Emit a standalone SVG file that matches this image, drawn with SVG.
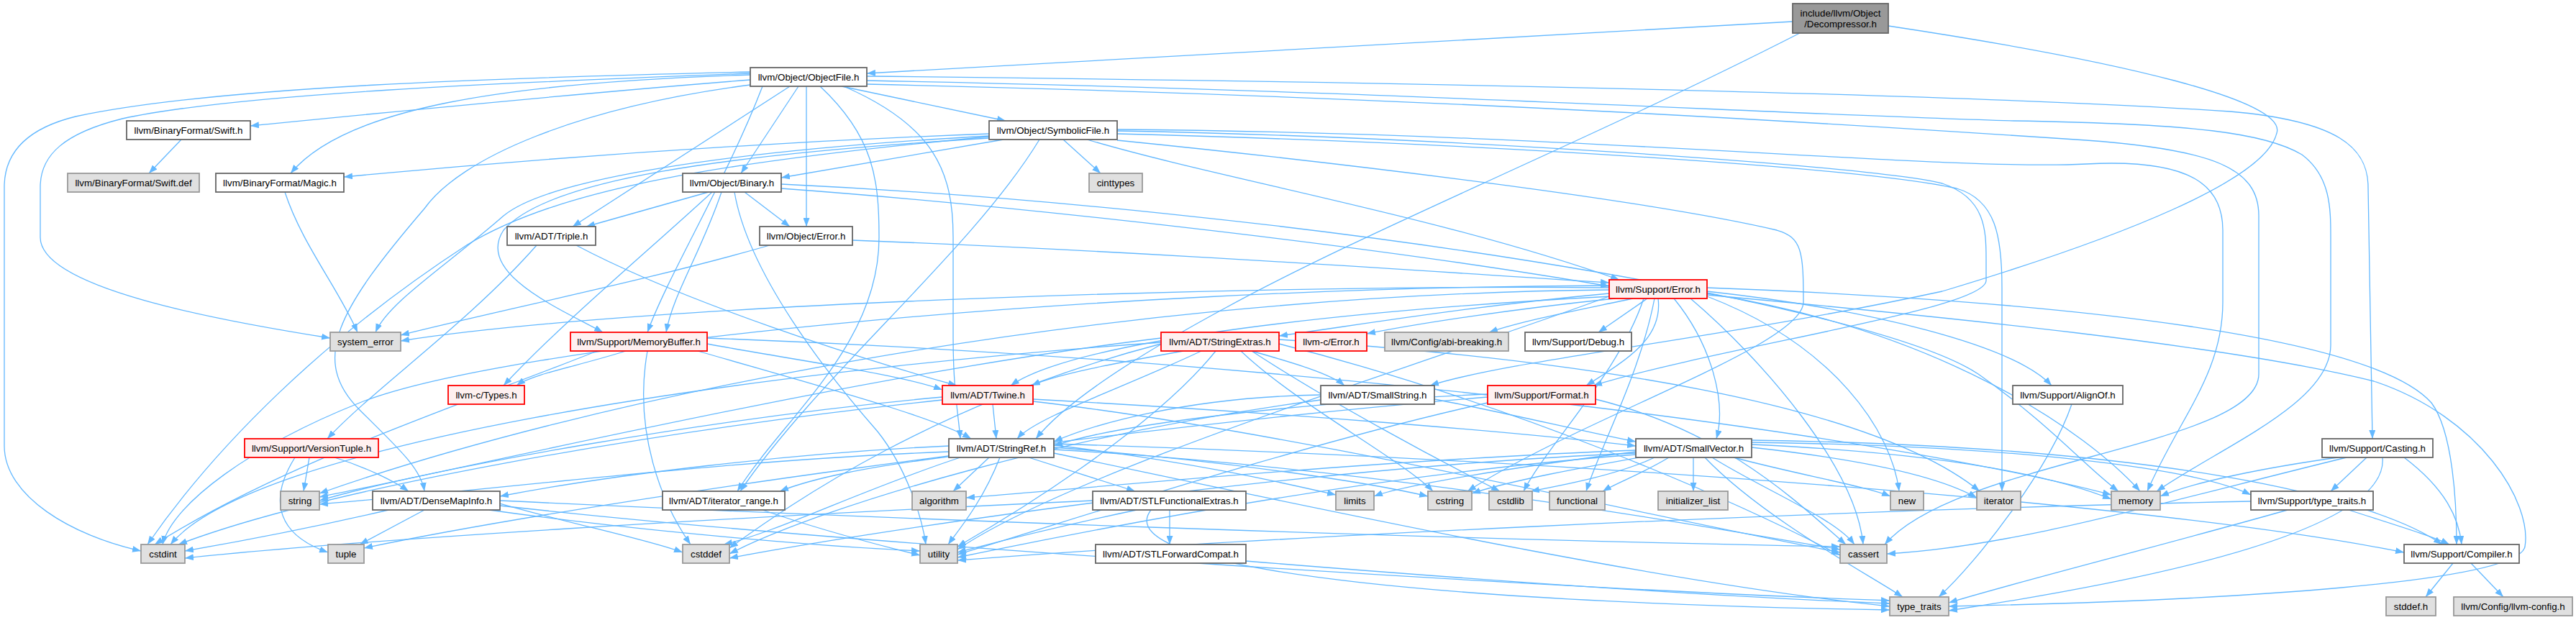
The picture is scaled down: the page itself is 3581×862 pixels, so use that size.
<svg xmlns="http://www.w3.org/2000/svg" width="3581" height="862" viewBox="0 0 3581 862">
<defs>
<marker id="a" viewBox="0 0 12 9" refX="12" refY="4.5" markerWidth="12" markerHeight="9" markerUnits="userSpaceOnUse" orient="auto"><path d="M0,0 L12,4.5 L0,9 z" fill="#63b8ff"/></marker>
<style>
.e{fill:none;stroke:#63b8ff;stroke-width:1.3;marker-end:url(#a)}
rect{stroke-width:1.8}
.w{fill:#ffffff;stroke:#666666}
.g{fill:#e0e0e0;stroke:#999999}
.r{fill:#fff0f0;stroke:#ff0000}
.k{fill:#999999;stroke:#666666}
text{font-family:"Liberation Sans",Arial,Helvetica,sans-serif;font-size:13.33px;fill:#000000;text-anchor:middle}
</style>
</defs>
<rect x="0" y="0" width="3581" height="862" fill="#ffffff" style="stroke:none"/>
<g id="edges">
<path class="e" d="M2492,30 C2000,55 1600,80 1205,102"/>
<path class="e" d="M2502,46 C2200,200 1900,320 1700,430 C1580,495 1480,560 1440,610"/>
<path class="e" d="M2625,36 C2950,85 3180,140 3165,185 C3150,250 2950,330 2700,405 C2400,470 2100,500 1988,536"/>
<path class="e" d="M1043,111 C800,130 550,155 348,175"/>
<path class="e" d="M1043,104 C700,115 480,150 404,241"/>
<path class="e" d="M1110,120 L1030,241"/>
<path class="e" d="M1170,120 L1398,168"/>
<path class="e" d="M1121,120 L1121,315"/>
<path class="e" d="M1098,120 L796,315"/>
<path class="e" d="M1173,120 C1300,175 1325,240 1325,330 L1325,470 C1325,540 1332,575 1335,610"/>
<path class="e" d="M1140,120 C1215,190 1222,250 1222,330 C1222,480 1090,580 1025,683"/>
<path class="e" d="M1205,106 C1800,112 2700,128 3100,155 C3250,168 3292,205 3292,260 L3298,610"/>
<path class="e" d="M1205,112 C1900,125 2500,160 2800,168 C3050,172 3150,185 3200,215 C3240,245 3240,290 3240,330 L3240,480 C3240,560 3090,620 2998,683"/>
<path class="e" d="M1205,117 C2000,135 2600,175 2900,195 C3080,208 3140,235 3140,300 L3140,520 C3140,620 2720,640 2620,757"/>
<path class="e" d="M1043,100 C700,108 300,120 105,162 C40,178 6,210 6,260 L6,620 C6,690 100,745 196,766"/>
<path class="e" d="M1043,102 C700,115 330,130 170,165 C90,185 56,215 56,260 L56,330 C56,400 300,445 459,470"/>
<path class="e" d="M1043,118 C800,150 640,220 590,290 C470,430 430,500 500,570 C550,620 585,650 590,683"/>
<path class="e" d="M1060,120 C1010,250 930,380 900,462"/>
<path class="e" d="M1375,186 C1000,200 700,225 478,246"/>
<path class="e" d="M1395,194 L1086,247"/>
<path class="e" d="M1478,194 L1530,241"/>
<path class="e" d="M1511,194 C1700,250 2000,300 2251,389"/>
<path class="e" d="M1553,182 C2000,190 2600,230 2700,255 C2760,275 2761,320 2761,360 L2761,390 C2761,430 2400,480 2215,536"/>
<path class="e" d="M1553,186 C2100,200 2600,235 2720,262 C2775,278 2783,330 2783,400 L2783,683"/>
<path class="e" d="M1553,180 C2200,185 2700,238 2900,228 C3050,220 3090,260 3090,320 L3090,420 C3090,520 3030,580 2985,683"/>
<path class="e" d="M1445,194 C1350,350 1140,520 1029,683"/>
<path class="e" d="M1553,195 C1900,230 2300,280 2470,320 C2505,330 2507,350 2507,420 C2507,480 2200,580 2040,683"/>
<path class="e" d="M1375,190 C1000,225 780,262 650,340 C450,470 300,620 205,757"/>
<path class="e" d="M1375,192 C1000,215 760,250 700,320 C660,380 780,430 838,462"/>
<path class="e" d="M1375,189 C1000,210 760,250 700,300 C620,370 540,420 522,462"/>
<path class="e" d="M985,267 L815,315"/>
<path class="e" d="M1035,267 L1098,315"/>
<path class="e" d="M990,267 C900,350 780,450 700,536"/>
<path class="e" d="M1003,267 C975,350 935,410 926,462"/>
<path class="e" d="M1086,262 C1400,285 1900,340 2237,398"/>
<path class="e" d="M1086,256 C1800,290 2600,420 2750,520 C2850,590 2900,650 2945,683"/>
<path class="e" d="M1021,267 C1040,380 1150,520 1220,600 C1260,650 1282,720 1287,757"/>
<path class="e" d="M1185,334 C1600,350 1950,375 2237,393"/>
<path class="e" d="M1070,341 C900,390 700,430 557,466"/>
<path class="e" d="M746,341 C650,450 520,540 455,610"/>
<path class="e" d="M801,341 C950,420 1200,500 1330,536"/>
<path class="e" d="M396,267 C420,340 470,400 497,462"/>
<path class="e" d="M252,194 L207,241"/>
<path class="e" d="M2237,400 C1800,395 900,420 557,474"/>
<path class="e" d="M2237,408 C2050,425 1900,450 1778,467"/>
<path class="e" d="M2240,412 C1900,430 1500,470 1405,536"/>
<path class="e" d="M2245,415 C2100,430 1970,450 1900,464"/>
<path class="e" d="M2270,415 C2200,430 2120,445 2070,462"/>
<path class="e" d="M2290,415 L2222,462"/>
<path class="e" d="M2305,415 C2312,470 2262,500 2205,536"/>
<path class="e" d="M2327,415 C2380,480 2400,560 2386,610"/>
<path class="e" d="M2373,405 C2600,430 2800,480 2852,536"/>
<path class="e" d="M2373,400 C2900,420 3300,470 3380,560 C3410,600 3415,700 3415,757"/>
<path class="e" d="M2373,410 C2700,440 3100,480 3300,530 C3450,580 3520,700 3510,760 C3500,810 3100,835 2709,843"/>
<path class="e" d="M2350,415 C2450,500 2580,650 2590,757"/>
<path class="e" d="M2237,397 C1500,400 700,480 500,560 C350,620 240,700 226,757"/>
<path class="e" d="M2285,415 C2250,520 2150,620 2118,683"/>
<path class="e" d="M2300,415 C2280,520 2225,620 2205,683"/>
<path class="e" d="M2373,408 C2700,460 2900,600 2975,683"/>
<path class="e" d="M2373,412 C2550,480 2630,600 2640,683"/>
<path class="e" d="M2237,403 C1500,410 800,560 444,686"/>
<path class="e" d="M2237,412 C2000,500 1500,650 1331,764"/>
<path class="e" d="M1740,488 C1800,505 1850,520 1869,536"/>
<path class="e" d="M1670,488 C1560,540 1440,580 1414,610"/>
<path class="e" d="M1645,488 C1550,505 1470,520 1434,536"/>
<path class="e" d="M1778,478 C2100,560 2400,690 2558,772"/>
<path class="e" d="M1614,478 C1300,560 1100,700 1014,762"/>
<path class="e" d="M1614,476 C1000,520 350,620 237,757"/>
<path class="e" d="M1740,488 C1850,560 2000,640 2085,683"/>
<path class="e" d="M1725,488 C1800,560 1950,640 1992,683"/>
<path class="e" d="M1778,472 C2200,500 2600,560 2752,683"/>
<path class="e" d="M1614,470 C1200,520 700,640 444,691"/>
<path class="e" d="M1690,488 C1600,600 1400,720 1331,760"/>
<path class="e" d="M870,488 C800,510 740,520 718,536"/>
<path class="e" d="M983,478 C1100,500 1250,520 1310,542"/>
<path class="e" d="M970,488 C1150,540 1300,580 1350,610"/>
<path class="e" d="M900,488 C880,600 920,700 960,757"/>
<path class="e" d="M830,488 C650,560 400,640 215,757"/>
<path class="e" d="M983,470 C1800,500 2600,600 2935,688"/>
<path class="e" d="M1380,562 L1385,610"/>
<path class="e" d="M1436,555 C1800,575 2100,600 2274,620"/>
<path class="e" d="M1436,558 C1800,600 2300,720 2558,768"/>
<path class="e" d="M1310,556 C900,600 450,680 248,757"/>
<path class="e" d="M1310,552 C1000,580 600,650 444,696"/>
<path class="e" d="M1836,549 C1650,552 1520,590 1465,614"/>
<path class="e" d="M1994,555 C2100,575 2200,600 2274,614"/>
<path class="e" d="M1836,556 C1500,600 1150,700 1014,770"/>
<path class="e" d="M2068,548 C1800,560 1550,590 1465,620"/>
<path class="e" d="M2218,555 C2400,600 2500,700 2566,757"/>
<path class="e" d="M2068,552 C1500,600 800,700 506,762"/>
<path class="e" d="M2068,560 C1800,620 1500,720 1331,771"/>
<path class="e" d="M2880,562 C2850,650 2750,780 2695,830"/>
<path class="e" d="M430,636 L422,683"/>
<path class="e" d="M465,636 C510,650 550,670 568,683"/>
<path class="e" d="M410,636 C370,700 390,745 456,768"/>
<path class="e" d="M1319,620 C1100,630 850,660 695,690"/>
<path class="e" d="M1430,636 L1578,683"/>
<path class="e" d="M1325,634 C1200,650 1130,665 1084,683"/>
<path class="e" d="M1375,636 L1325,683"/>
<path class="e" d="M1390,636 C1365,700 1330,740 1318,757"/>
<path class="e" d="M1335,636 C1200,680 1080,740 1006,757"/>
<path class="e" d="M1465,625 C1900,650 2300,720 2558,764"/>
<path class="e" d="M1465,622 C1700,640 1900,670 1985,690"/>
<path class="e" d="M1465,619 C1650,640 1800,675 1857,688"/>
<path class="e" d="M1319,628 C1000,640 700,680 444,701"/>
<path class="e" d="M1465,630 C1800,700 2300,810 2627,843"/>
<path class="e" d="M1465,617 C2200,640 3000,700 3342,768"/>
<path class="e" d="M2354,636 L2354,683"/>
<path class="e" d="M2320,636 C2280,660 2250,670 2228,683"/>
<path class="e" d="M2300,636 C2250,660 2170,675 2128,683"/>
<path class="e" d="M2290,634 C2200,650 2100,668 2046,686"/>
<path class="e" d="M2274,628 C2100,650 1950,675 1910,690"/>
<path class="e" d="M2380,636 C2450,680 2550,720 2578,757"/>
<path class="e" d="M2410,636 C2500,660 2590,675 2628,690"/>
<path class="e" d="M2370,636 C2450,720 2600,800 2645,830"/>
<path class="e" d="M2435,622 C2600,640 2700,665 2748,692"/>
<path class="e" d="M2435,618 C2700,630 2850,660 2935,694"/>
<path class="e" d="M2435,615 C2800,620 3050,650 3129,688"/>
<path class="e" d="M2435,612 C3000,620 3300,690 3395,757"/>
<path class="e" d="M2274,626 C1900,640 1500,680 1343,692"/>
<path class="e" d="M2274,630 C1800,650 1200,740 1014,776"/>
<path class="e" d="M2274,632 C1900,660 1500,740 1331,775"/>
<path class="e" d="M3342,636 C3400,680 3418,720 3422,757"/>
<path class="e" d="M3290,636 L3240,683"/>
<path class="e" d="M3250,636 C3150,650 3050,670 3003,690"/>
<path class="e" d="M3262,636 C3000,700 2800,760 2623,770"/>
<path class="e" d="M3312,636 C3320,720 3100,790 2709,849"/>
<path class="e" d="M540,709 C450,730 350,750 257,766"/>
<path class="e" d="M590,709 L500,757"/>
<path class="e" d="M695,696 C1200,720 2000,750 2558,760"/>
<path class="e" d="M695,700 C800,730 900,750 949,768"/>
<path class="e" d="M695,703 C1200,760 2200,820 2627,835"/>
<path class="e" d="M680,709 C900,740 1150,760 1279,766"/>
<path class="e" d="M1060,709 C1150,740 1230,760 1279,772"/>
<path class="e" d="M1626,709 L1626,757"/>
<path class="e" d="M1580,709 C1480,730 1380,755 1331,768"/>
<path class="e" d="M1519,696 C1000,720 500,750 257,776"/>
<path class="e" d="M1600,709 C1530,800 2100,840 2627,848"/>
<path class="e" d="M1732,780 C2100,810 2400,830 2627,839"/>
<path class="e" d="M3265,709 C3330,730 3380,745 3405,757"/>
<path class="e" d="M3180,709 C3000,760 2800,810 2709,838"/>
<path class="e" d="M3129,697 C2500,710 1700,750 1331,779"/>
<path class="e" d="M3410,783 L3372,830"/>
<path class="e" d="M3435,783 L3480,830"/>
</g>
<g id="n_dec"><rect class="k" x="2492" y="5" width="133" height="41"/><text x="2558.5" y="22.5">include/llvm/Object</text><text x="2558.5" y="37.5">/Decompressor.h</text></g>
<g id="n_of"><rect class="w" x="1043" y="94" width="162" height="26"/><text x="1124" y="111.5">llvm/Object/ObjectFile.h</text></g>
<g id="n_swh"><rect class="w" x="176" y="168" width="172" height="26"/><text x="262" y="185.5">llvm/BinaryFormat/Swift.h</text></g>
<g id="n_sym"><rect class="w" x="1375" y="168" width="178" height="26"/><text x="1464" y="185.5">llvm/Object/SymbolicFile.h</text></g>
<g id="n_swd"><rect class="g" x="94" y="241" width="183" height="26"/><text x="185.5" y="258.5">llvm/BinaryFormat/Swift.def</text></g>
<g id="n_mag"><rect class="w" x="300" y="241" width="178" height="26"/><text x="389" y="258.5">llvm/BinaryFormat/Magic.h</text></g>
<g id="n_bin"><rect class="w" x="949" y="241" width="137" height="26"/><text x="1017.5" y="258.5">llvm/Object/Binary.h</text></g>
<g id="n_cin"><rect class="g" x="1514" y="241" width="74" height="26"/><text x="1551" y="258.5">cinttypes</text></g>
<g id="n_tri"><rect class="w" x="705" y="315" width="123" height="26"/><text x="766.5" y="332.5">llvm/ADT/Triple.h</text></g>
<g id="n_oer"><rect class="w" x="1056" y="315" width="129" height="26"/><text x="1120.5" y="332.5">llvm/Object/Error.h</text></g>
<g id="n_err"><rect class="r" x="2237" y="389" width="136" height="26"/><text x="2305" y="406.5">llvm/Support/Error.h</text></g>
<g id="n_sys"><rect class="g" x="459" y="462" width="98" height="26"/><text x="508" y="479.5">system_error</text></g>
<g id="n_mb"><rect class="r" x="793" y="462" width="190" height="26"/><text x="888" y="479.5">llvm/Support/MemoryBuffer.h</text></g>
<g id="n_se"><rect class="r" x="1614" y="462" width="164" height="26"/><text x="1696" y="479.5">llvm/ADT/StringExtras.h</text></g>
<g id="n_cer"><rect class="r" x="1801" y="462" width="99" height="26"/><text x="1850.5" y="479.5">llvm-c/Error.h</text></g>
<g id="n_abi"><rect class="g" x="1925" y="462" width="172" height="26"/><text x="2011" y="479.5">llvm/Config/abi-breaking.h</text></g>
<g id="n_dbg"><rect class="w" x="2120" y="462" width="148" height="26"/><text x="2194" y="479.5">llvm/Support/Debug.h</text></g>
<g id="n_ctypes"><rect class="r" x="623" y="536" width="106" height="26"/><text x="676" y="553.5">llvm-c/Types.h</text></g>
<g id="n_tw"><rect class="r" x="1310" y="536" width="126" height="26"/><text x="1373" y="553.5">llvm/ADT/Twine.h</text></g>
<g id="n_ss"><rect class="w" x="1836" y="536" width="158" height="26"/><text x="1915" y="553.5">llvm/ADT/SmallString.h</text></g>
<g id="n_fmt"><rect class="r" x="2068" y="536" width="150" height="26"/><text x="2143" y="553.5">llvm/Support/Format.h</text></g>
<g id="n_al"><rect class="w" x="2798" y="536" width="153" height="26"/><text x="2874.5" y="553.5">llvm/Support/AlignOf.h</text></g>
<g id="n_vt"><rect class="r" x="340" y="610" width="186" height="26"/><text x="433" y="627.5">llvm/Support/VersionTuple.h</text></g>
<g id="n_sr"><rect class="w" x="1319" y="610" width="146" height="26"/><text x="1392" y="627.5">llvm/ADT/StringRef.h</text></g>
<g id="n_sv"><rect class="w" x="2274" y="610" width="161" height="26"/><text x="2354.5" y="627.5">llvm/ADT/SmallVector.h</text></g>
<g id="n_cast"><rect class="w" x="3228" y="610" width="154" height="26"/><text x="3305" y="627.5">llvm/Support/Casting.h</text></g>
<g id="n_str"><rect class="g" x="390" y="683" width="54" height="26"/><text x="417" y="700.5">string</text></g>
<g id="n_dmi"><rect class="w" x="518" y="683" width="177" height="26"/><text x="606.5" y="700.5">llvm/ADT/DenseMapInfo.h</text></g>
<g id="n_ir"><rect class="w" x="921" y="683" width="170" height="26"/><text x="1006" y="700.5">llvm/ADT/iterator_range.h</text></g>
<g id="n_alg"><rect class="g" x="1268" y="683" width="75" height="26"/><text x="1305.5" y="700.5">algorithm</text></g>
<g id="n_sfe"><rect class="w" x="1519" y="683" width="213" height="26"/><text x="1625.5" y="700.5">llvm/ADT/STLFunctionalExtras.h</text></g>
<g id="n_lim"><rect class="g" x="1857" y="683" width="53" height="26"/><text x="1883.5" y="700.5">limits</text></g>
<g id="n_cstr"><rect class="g" x="1985" y="683" width="61" height="26"/><text x="2015.5" y="700.5">cstring</text></g>
<g id="n_cstdlib"><rect class="g" x="2070" y="683" width="60" height="26"/><text x="2100" y="700.5">cstdlib</text></g>
<g id="n_func"><rect class="g" x="2154" y="683" width="77" height="26"/><text x="2192.5" y="700.5">functional</text></g>
<g id="n_il"><rect class="g" x="2305" y="683" width="97" height="26"/><text x="2353.5" y="700.5">initializer_list</text></g>
<g id="n_new"><rect class="g" x="2628" y="683" width="46" height="26"/><text x="2651" y="700.5">new</text></g>
<g id="n_iter"><rect class="g" x="2748" y="683" width="61" height="26"/><text x="2778.5" y="700.5">iterator</text></g>
<g id="n_mem"><rect class="g" x="2935" y="683" width="68" height="26"/><text x="2969" y="700.5">memory</text></g>
<g id="n_stt"><rect class="w" x="3129" y="683" width="170" height="26"/><text x="3214" y="700.5">llvm/Support/type_traits.h</text></g>
<g id="n_cstdint"><rect class="g" x="196" y="757" width="61" height="26"/><text x="226.5" y="774.5">cstdint</text></g>
<g id="n_tup"><rect class="g" x="456" y="757" width="50" height="26"/><text x="481" y="774.5">tuple</text></g>
<g id="n_cstddef"><rect class="g" x="949" y="757" width="65" height="26"/><text x="981.5" y="774.5">cstddef</text></g>
<g id="n_util"><rect class="g" x="1279" y="757" width="52" height="26"/><text x="1305" y="774.5">utility</text></g>
<g id="n_sfc"><rect class="w" x="1523" y="757" width="209" height="26"/><text x="1627.5" y="774.5">llvm/ADT/STLForwardCompat.h</text></g>
<g id="n_cas"><rect class="g" x="2558" y="757" width="65" height="26"/><text x="2590.5" y="774.5">cassert</text></g>
<g id="n_comp"><rect class="w" x="3342" y="757" width="160" height="26"/><text x="3422" y="774.5">llvm/Support/Compiler.h</text></g>
<g id="n_tt"><rect class="g" x="2627" y="830" width="82" height="26"/><text x="2668" y="847.5">type_traits</text></g>
<g id="n_stddef"><rect class="g" x="3317" y="830" width="69" height="26"/><text x="3351.5" y="847.5">stddef.h</text></g>
<g id="n_cfg"><rect class="g" x="3411" y="830" width="165" height="26"/><text x="3493.5" y="847.5">llvm/Config/llvm-config.h</text></g>
</svg>
